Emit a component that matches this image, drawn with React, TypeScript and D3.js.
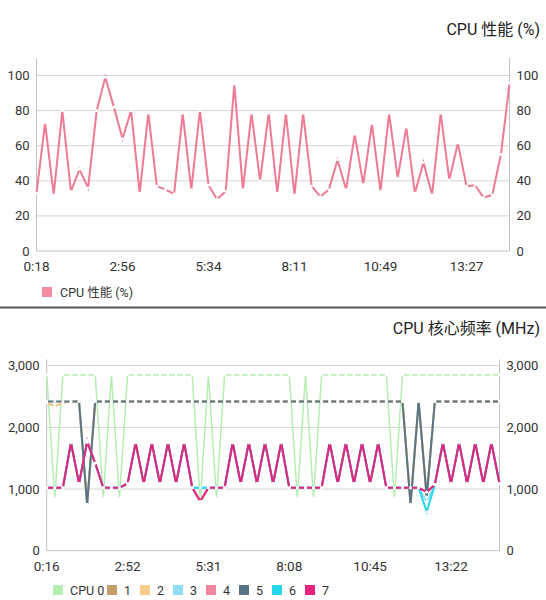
import * as d3 from "d3";

// CPU load, one sample every ~16 s
const loadTimes = ["0:18", "2:56", "5:34", "8:11", "10:49", "13:27"];
const cpuLoad = [
  33, 73, 32, 80, 34, 46.5, 36, 80, 99, 82,
  64, 80, 33, 78.5, 37, 35, 32.5, 78.5, 35, 80,
  37.5, 29.5, 34, 95, 35, 78.5, 40, 78.5, 33, 78.5,
  32, 78.5, 37, 31, 35, 52, 35, 66.5, 38, 72.5,
  34, 78.5, 41.5, 70.5, 33, 50.5, 32, 78.5, 40.5, 61.5,
  37, 37.5, 30.5, 32, 55, 95.5,
];

// core frequencies (MHz)
const freqTimes = ["0:16", "2:52", "5:31", "8:08", "10:45", "13:22"];
const cpu0 = [
  2850, 850, 2850, 2850, 2850, 2850, 2850, 850, 2850, 850,
  2850, 2850, 2850, 2850, 2850, 2850, 2850, 2850, 2850, 800,
  2850, 850, 2850, 2850, 2850, 2850, 2850, 2850, 2850, 2850,
  2850, 850, 2850, 850, 2850, 2850, 2850, 2850, 2850, 2850,
  2850, 2850, 2850, 850, 2850, 2850, 2850, 2850, 2850, 2850,
  2850, 2850, 2850, 2850, 2850, 2850, 2850,
];
const cpu1 = [
  2400, 2345, 2400, 2420, 2420, 750, 2420, 2420, 2420, 2420,
  2420, 2420, 2420, 2420, 2420, 2420, 2420, 2420, 2420, 2420,
  2420, 2420, 2420, 2420, 2420, 2420, 2420, 2420, 2420, 2420,
  2420, 2420, 2420, 2420, 2420, 2420, 2420, 2420, 2420, 2420,
  2420, 2420, 2420, 2420, 2420, 750, 2420, 870, 2420, 2420,
  2420, 2420, 2420, 2420, 2420, 2420, 2420,
];
const cpu2 = [
  2400, 2350, 2400, 2420, 2420, 750, 2420, 2420, 2420, 2420,
  2420, 2420, 2420, 2420, 2420, 2420, 2420, 2420, 2420, 2420,
  2420, 2420, 2420, 2420, 2420, 2420, 2420, 2420, 2420, 2420,
  2420, 2420, 2420, 2420, 2420, 2420, 2420, 2420, 2420, 2420,
  2420, 2420, 2420, 2420, 2420, 750, 2420, 870, 2420, 2420,
  2420, 2420, 2420, 2420, 2420, 2420, 2420,
];
const cpu3 = [
  1020, 1020, 1020, 1750, 1090, 1760, 1420, 1020, 1020, 1020,
  1090, 1750, 1090, 1750, 1090, 1750, 1090, 1750, 1020, 1020,
  1020, 1020, 1020, 1750, 1090, 1750, 1090, 1750, 1090, 1750,
  1020, 1020, 1020, 1020, 1020, 1750, 1090, 1750, 1090, 1750,
  1090, 1750, 1020, 1020, 1020, 1020, 1020, 800, 1070, 1750,
  1090, 1750, 1090, 1750, 1090, 1750, 1090,
];
const cpu4 = [
  1020, 1020, 1020, 1750, 1090, 1790, 1420, 1020, 1020, 1020,
  1090, 1750, 1090, 1750, 1090, 1750, 1090, 1750, 1020, 800,
  1020, 1020, 1020, 1750, 1090, 1750, 1090, 1750, 1090, 1750,
  1020, 1020, 1020, 1020, 1020, 1750, 1090, 1750, 1090, 1750,
  1090, 1750, 1020, 1020, 1020, 1020, 1020, 950, 1070, 1750,
  1090, 1750, 1090, 1750, 1090, 1750, 1090,
];
const cpu5 = [
  2420, 2420, 2420, 2420, 2420, 750, 2420, 2420, 2420, 2420,
  2420, 2420, 2420, 2420, 2420, 2420, 2420, 2420, 2420, 2420,
  2420, 2420, 2420, 2420, 2420, 2420, 2420, 2420, 2420, 2420,
  2420, 2420, 2420, 2420, 2420, 2420, 2420, 2420, 2420, 2420,
  2420, 2420, 2420, 2420, 2420, 750, 2420, 870, 2420, 2420,
  2420, 2420, 2420, 2420, 2420, 2420, 2420,
];
const cpu6 = [
  1020, 1020, 1020, 1750, 1090, 1760, 1420, 1020, 1020, 1020,
  1090, 1750, 1090, 1750, 1090, 1750, 1090, 1750, 1020, 1020,
  1020, 1020, 1020, 1750, 1090, 1750, 1090, 1750, 1090, 1750,
  1020, 1020, 1020, 1020, 1020, 1750, 1090, 1750, 1090, 1750,
  1090, 1750, 1020, 1020, 1020, 1020, 1020, 630, 1070, 1750,
  1090, 1750, 1090, 1750, 1090, 1750, 1090,
];
const cpu7 = [
  1020, 1020, 1020, 1750, 1090, 1760, 1420, 1020, 1020, 1020,
  1090, 1750, 1090, 1750, 1090, 1750, 1090, 1750, 1020, 800,
  1020, 1020, 1020, 1750, 1090, 1750, 1090, 1750, 1090, 1750,
  1020, 1020, 1020, 1020, 1020, 1750, 1090, 1750, 1090, 1750,
  1090, 1750, 1020, 1020, 1020, 1020, 1020, 950, 1070, 1750,
  1090, 1750, 1090, 1750, 1090, 1750, 1090,
];
const coreNames = ["CPU 0", "1", "2", "3", "4", "5", "6", "7"];
const coreColors = ["#b6eeb2", "#c3a06b", "#f8cb8b", "#90def3", "#f0879c", "#587587", "#22d6ec", "#e3237e"];
const coreSeries = [cpu0, cpu1, cpu2, cpu3, cpu4, cpu5, cpu6, cpu7];

const FONT = "Roboto, 'Noto Sans CJK SC', sans-serif";
const TXT = "#333";
const GRID = "#d4d4d4";
const AXIS = "#c2c2c2";

const fmt = d3.format(",");

function Panel({ values, colors, times, x0, x1, yTop, yBottom, max, ticks, widths }: any) {
  const n = values[0].length;
  const x = d3.scaleLinear().domain([0, n - 1]).range([x0, x1]);
  const y = d3.scaleLinear().domain([0, max]).range([yBottom, yTop]);
  const line = d3.line<number>().x((_, i) => x(i)).y((d) => y(d));
  const yt = y.ticks(ticks);
  return (
    <g>
      {yt.map((t: number) => (
        <g key={t}>
          {t > 0 && <line x1={x0} x2={x1} y1={y(t)} y2={y(t)} stroke={GRID} strokeWidth={1} />}
          <text x={x0 - 7} y={y(t)} dy="0.35em" textAnchor="end" fontSize={13} fill={TXT}>{fmt(t)}</text>
          <text x={x1 + 7} y={y(t)} dy="0.35em" fontSize={13} fill={TXT}>{fmt(t)}</text>
        </g>
      ))}
      <line x1={x0} x2={x0} y1={yTop} y2={yBottom} stroke={AXIS} />
      <line x1={x1} x2={x1} y1={yTop} y2={yBottom} stroke={AXIS} />
      <line x1={x0} x2={x1} y1={yBottom} y2={yBottom} stroke={AXIS} />
      {times.map((t: string, i: number) => (
        <text key={t} x={x(i * 10)} y={yBottom + 20} textAnchor="middle" fontSize={13.5} fill={TXT}>{t}</text>
      ))}
      {values.map((v: number[], k: number) => (
        <path key={k} d={line(v) ?? ""} fill="none" stroke={colors[k]} strokeWidth={widths[k]} strokeLinejoin="miter" />
      ))}
      {values.map((v: number[], k: number) =>
        v.map((d, i) => <circle key={k + "-" + i} cx={x(i)} cy={y(d)} r={1.4} fill="#fff" />)
      )}
    </g>
  );
}

export default function App() {
  return (
    <svg width={546} height={600} style={{ position: "absolute", left: 0, top: 0, background: "#fff" }} fontFamily={FONT}>
      <rect width={546} height={600} fill="#fff" />
      <text x={540} y={35} textAnchor="end" fontSize={16} fill="#222">CPU 性能 (%)</text>
      <Panel values={[cpuLoad]} colors={["#ee7a94"]} widths={[2]} times={loadTimes}
        x0={36.5} x1={509.5} yTop={58} yBottom={251} max={110} ticks={5} />
      <rect x={42} y={287} width={10} height={10} fill="#f38aa0" />
      <text x={60} y={296.5} fontSize={12.5} fill={TXT}>CPU 性能 (%)</text>
      <line x1={0} x2={546} y1={307.5} y2={307.5} stroke="#555" strokeWidth={2} />

      <text x={540} y={334} textAnchor="end" fontSize={16} fill="#222">CPU 核心频率 (MHz)</text>
      <Panel values={coreSeries} colors={coreColors} widths={[1.5, 2, 2, 2, 2, 2, 2, 2]} times={freqTimes}
        x0={46.7} x1={499.5} yTop={359.5} yBottom={550.7} max={3100} ticks={4} />
      {(() => {
        let cx = 53;
        return coreNames.map((name, k) => {
          const item = (
            <g key={name}>
              <rect x={cx} y={585} width={10} height={10} fill={coreColors[k]} />
              <text x={cx + 17} y={594.5} fontSize={12.5} fill={TXT}>{name}</text>
            </g>
          );
          cx += k === 0 ? 54 : 33;
          return item;
        });
      })()}
    </svg>
  );
}
